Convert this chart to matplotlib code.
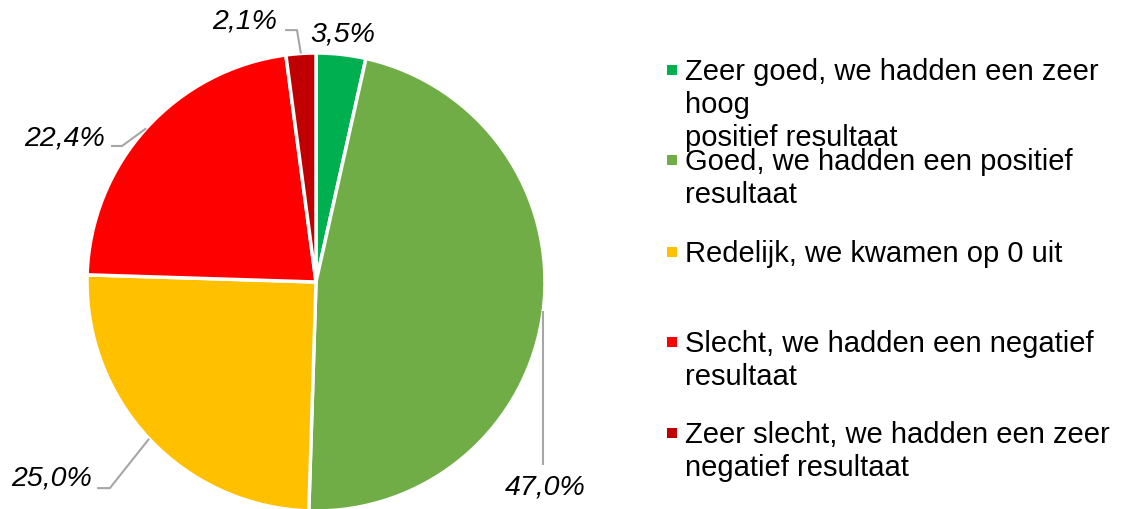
import numpy as np
import matplotlib.pyplot as plt
from matplotlib.patches import Rectangle

plt.rcParams['font.family'] = ['Liberation Sans', 'DejaVu Sans']

# data
labels = ['Zeer goed, we hadden een zeer\nhoog\npositief resultaat',
          'Goed, we hadden een positief\nresultaat',
          'Redelijk, we kwamen op 0 uit',
          'Slecht, we hadden een negatief\nresultaat',
          'Zeer slecht, we hadden een zeer\nnegatief resultaat']
values = [3.5, 47.0, 25.0, 22.4, 2.1]
pct_labels = ['3,5%', '47,0%', '25,0%', '22,4%', '2,1%']
colors = ['#00B050', '#70AD47', '#FFC000', '#FF0000', '#C00000']

W, H = 1121, 510
fig = plt.figure(figsize=(W / 100, H / 100), dpi=100)

cx, cy, R = 316, 283, 229
ax = fig.add_axes([(cx - R) / W, (H - cy - R) / H, 2 * R / W, 2 * R / H])
ax.axis('off')

wedges, _ = ax.pie(values, colors=colors, startangle=90, counterclock=False,
                   radius=1.0, wedgeprops=dict(edgecolor='white', linewidth=2.5))
ax.set_xlim(-1, 1)
ax.set_ylim(-1, 1)
ax.set_aspect('auto')

# label layout: (text x, text y, leader points after wedge point) in data units
lab_pos = [
    (0.118, 1.083, []),
    (1.00, -0.895, [(None, -0.80)]),
    (-1.153, -0.852, [(-0.90, -0.90), (-0.956, -0.90)]),
    (-1.096, 0.633, [(-0.847, 0.594), (-0.895, 0.594)]),
    (-0.31, 1.14, [(-0.083, 1.10), (-0.135, 1.10)]),
]

cum = np.cumsum([0] + values)
total = sum(values)
for i, (tx, ty, pts) in enumerate(lab_pos):
    mid = (cum[i] + cum[i + 1]) / 2 / total
    ang = np.deg2rad(90 - mid * 360)
    wx, wy = np.cos(ang), np.sin(ang)
    if pts:
        xs = [wx] + [wx if p[0] is None else p[0] for p in pts]
        ys = [wy] + [p[1] for p in pts]
        ax.plot(xs, ys, color='#A6A6A6', lw=1.5, clip_on=False,
                solid_capstyle='butt')
    ax.text(tx, ty, pct_labels[i], fontsize=20.5, style='italic',
            ha='center', va='center', clip_on=False)

# legend
leg_y = [80, 170, 262, 352, 443]
line_h = 33
for lab, col, y0 in zip(labels, colors, leg_y):
    fig.patches.append(Rectangle((667 / W, 1 - (y0 - 4) / H), 10 / W, 10 / H,
                                 transform=fig.transFigure, facecolor=col,
                                 edgecolor='none'))
    for k, line in enumerate(lab.split('\n')):
        fig.text(685 / W, 1 - (y0 + k * line_h) / H, line, fontsize=21,
                 ha='left', va='baseline')

fig.savefig('out.png', dpi=100)
